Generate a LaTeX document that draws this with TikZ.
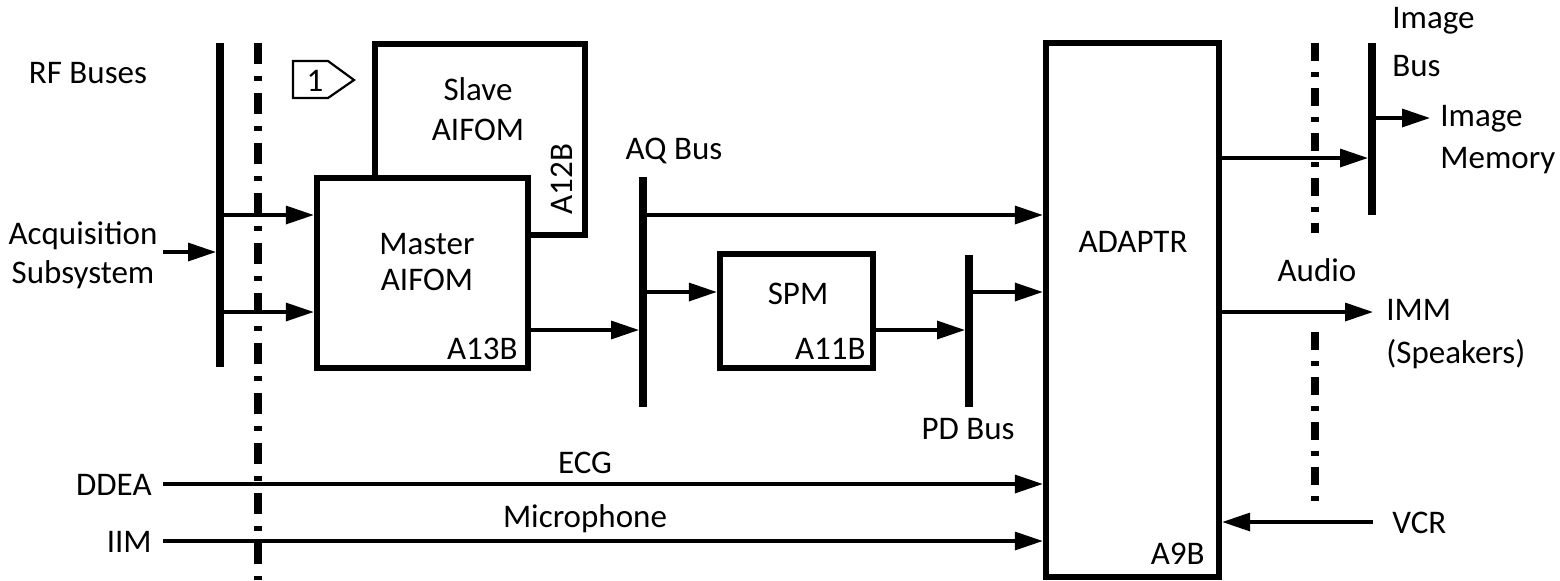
\documentclass[tikz,border=0pt]{standalone}
\usepackage{fontspec}
\setmainfont{Carlito}
\usetikzlibrary{arrows.meta}
\begin{document}
\begin{tikzpicture}[x=0.5pt,y=-0.5pt,
  every node/.style={font=\fontsize{16.5}{20}\selectfont, inner sep=0pt},
  box/.style={draw, line width=3.2pt, fill=white, inner sep=0pt},
  bus/.style={fill=black, minimum width=3.6pt, inner sep=0pt},
  arr/.style={line width=1.7pt, -{Triangle[length=14pt,width=9pt]}},
  sepl/.style={line width=4pt, dash pattern=on 10.5pt off 6pt on 2.5pt off 6pt},
  sepr/.style={line width=4pt, dash pattern=on 9pt off 5.5pt on 2.5pt off 5.5pt},
  lbl/.style={anchor=base},
  lble/.style={anchor=base east},
  lblw/.style={anchor=base west},
]
\useasboundingbox (0,0) rectangle (1560,580);

% separators (dash-dot)
\coordinate (sl1) at (258,43);
\coordinate (sl2) at (258,580);
\draw[sepl] (sl1) -- (sl2);
\coordinate (sr1) at (1315,43);
\coordinate (sr2) at (1315,233);
\coordinate (sr3) at (1315,332);
\coordinate (sr4) at (1315,503);
\draw[sepr] (sr1) -- (sr2);
\draw[sepr] (sr3) -- (sr4);

% boxes
\node[box, minimum width=105pt, minimum height=95.5pt] (slave) at (480,139.5) {};
\node[box, minimum width=105.5pt, minimum height=95pt] (master) at (422.5,273) {};
\node[box, minimum width=76.5pt, minimum height=57pt] (spm) at (796.5,311) {};
\node[box, minimum width=86.5pt, minimum height=267pt] (adaptr) at (1132.5,310) {};

% buses
\node[bus, minimum height=162pt] (rf) at (220,205) {};
\node[bus, minimum height=115pt] (aq) at (643,292) {};
\node[bus, minimum height=76pt] (pd) at (969,331) {};
\node[bus, minimum height=86pt] (imgbus) at (1372,129) {};

% box texts
\node[align=center, font=\fontsize{16.5}{20}\selectfont] (slavet) at (478,109) {Slave\\AIFOM};
\node[rotate=90] (a12b) at (562,179) {A12B};
\node[align=center, font=\fontsize{16.5}{18.3}\selectfont] (mastert) at (427,262) {Master\\AIFOM};
\node[lble] (a13b) at (518,359) {A13B};
\node[lbl] (spmt) at (798,304) {SPM};
\node[lble] (a11b) at (866,359) {A11B};
\node[lbl] (adaptrt) at (1133,252) {ADAPTR};
\node[lble] (a9b) at (1205,564) {A9B};

% badge
\coordinate (b1) at (293,61);
\coordinate (b2) at (328,61);
\coordinate (b3) at (354,80);
\coordinate (b4) at (328,98);
\coordinate (b5) at (293,98);
\draw[line width=1.1pt] (b1) -- (b2) -- (b3) -- (b4) -- (b5) -- cycle;
\node[lbl] (one) at (315,91) {1};

% labels
\node[lbl] (rft) at (88,83) {RF Buses};
\node[align=center, font=\fontsize{16.5}{19.5}\selectfont] (acq) at (83,255) {Acquisition\\Subsystem};
\node[lbl] (aqt) at (674,159) {AQ Bus};
\node[lbl] (pdt) at (968,439) {PD Bus};
\node[align=left, anchor=west, font=\fontsize{16.5}{24}\selectfont] (imgbust) at (1392,42) {Image\\Bus};
\node[align=left, anchor=west, font=\fontsize{16.5}{21}\selectfont] (imgmem) at (1440,140) {Image\\Memory};
\node[lbl] (audio) at (1317,281) {Audio};
\node[align=left, anchor=west, font=\fontsize{16.5}{21.5}\selectfont] (imm) at (1386,334) {IMM\\(Speakers)};
\node[lblw] (vcr) at (1392,533) {VCR};
\node[lble] (ddea) at (152,495) {DDEA};
\node[lble] (iim) at (152,552) {IIM};
\node[lbl] (ecg) at (585,473) {ECG};
\node[lbl] (mic) at (585,527) {Microphone};

% connector free ends
\coordinate (acqs) at (163,252);
\coordinate (ddeas) at (163,484);
\coordinate (iims) at (163,541);
\coordinate (imend) at (1430,118);
\coordinate (immend) at (1373,312);
\coordinate (vcrs) at (1373,522);

% connectors
\draw[arr] (acqs) -- (rf.west |- acqs);
\draw[arr] (rf.east |- 0,215) -- (master.west |- 0,215);
\draw[arr] (rf.east |- 0,312) -- (master.west |- 0,312);
\draw[arr] (master.east |- 0,330) -- (aq.west |- 0,330);
\draw[arr] (aq.east |- 0,215) -- (adaptr.west |- 0,215);
\draw[arr] (aq.east |- 0,292) -- (spm.west |- 0,292);
\draw[arr] (spm.east |- 0,330) -- (pd.west |- 0,330);
\draw[arr] (pd.east |- 0,292) -- (adaptr.west |- 0,292);
\draw[arr] (adaptr.east |- 0,158) -- (imgbus.west |- 0,158);
\draw[arr] (imgbus.east |- imend) -- (imend);
\draw[arr] (adaptr.east |- immend) -- (immend);
\draw[arr] (vcrs) -- (adaptr.east |- vcrs);
\draw[arr] (ddeas) -- (adaptr.west |- ddeas);
\draw[arr] (iims) -- (adaptr.west |- iims);
\end{tikzpicture}
\end{document}
